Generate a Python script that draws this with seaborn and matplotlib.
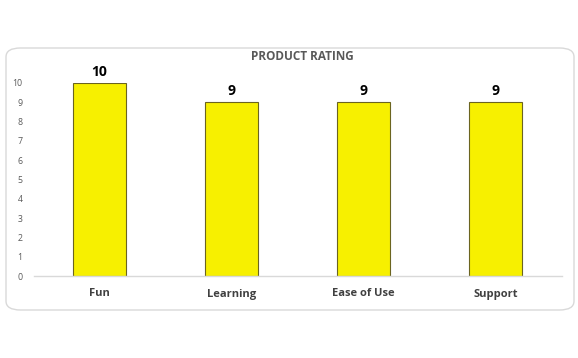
import matplotlib
matplotlib.use("Agg")
import matplotlib.pyplot as plt
from matplotlib.patches import FancyBboxPatch
import seaborn as sns
import pandas as pd

# chart data
categories = ["Fun", "Learning", "Ease of Use", "Support"]
ratings = [10, 9, 9, 9]
yticks = list(range(0, 11))

df = pd.DataFrame({"Category": categories, "Rating": ratings})

sns.set_style("white")
plt.rcParams["font.family"] = ["Open Sans", "DejaVu Sans"]

fig = plt.figure(figsize=(5.78, 3.58), dpi=100)
fig.patch.set_facecolor("white")

# rounded chart border, kept behind the axes
box = FancyBboxPatch((6 / 578, 48 / 358), 568 / 578, 262 / 358,
                     boxstyle="round,pad=0,rounding_size=0.025",
                     transform=fig.transFigure, facecolor="white",
                     edgecolor="#d9d9d9", linewidth=1.0, zorder=-10)
fig.patches.append(box)

ax = fig.add_axes([33.5 / 578, 82 / 358, 528 / 578, 193 / 358])
ax.set_facecolor("none")
ax.set_zorder(1)

sns.barplot(data=df, x="Category", y="Rating", color="#f7f000", width=0.4,
            edgecolor="#6b6420", linewidth=0.8, saturation=1, ax=ax)

for i, v in enumerate(ratings):
    ax.text(i, v + 0.2, str(v), ha="center", va="bottom",
            fontsize=10, fontweight="bold", color="black")

ax.set_xlim(-0.5, 3.5)
ax.set_ylim(0, 10)
ax.set_yticks(yticks)
ax.tick_params(axis="y", labelsize=6.3, colors="#595959", length=0, pad=8)
ax.tick_params(axis="x", labelsize=8, colors="#404040", length=0, pad=9)
for lbl in ax.get_xticklabels():
    lbl.set_fontweight("bold")
ax.set_xlabel("")
ax.set_ylabel("")
for s in ["top", "right", "left"]:
    ax.spines[s].set_visible(False)
ax.spines["bottom"].set_color("#d9d9d9")
ax.spines["bottom"].set_linewidth(1.0)

fig.text(302 / 578, 1 - 57 / 358, "PRODUCT RATING", ha="center", va="center",
         fontsize=8.5, fontweight="bold", color="#595959")

fig.savefig("out.png", dpi=100)
